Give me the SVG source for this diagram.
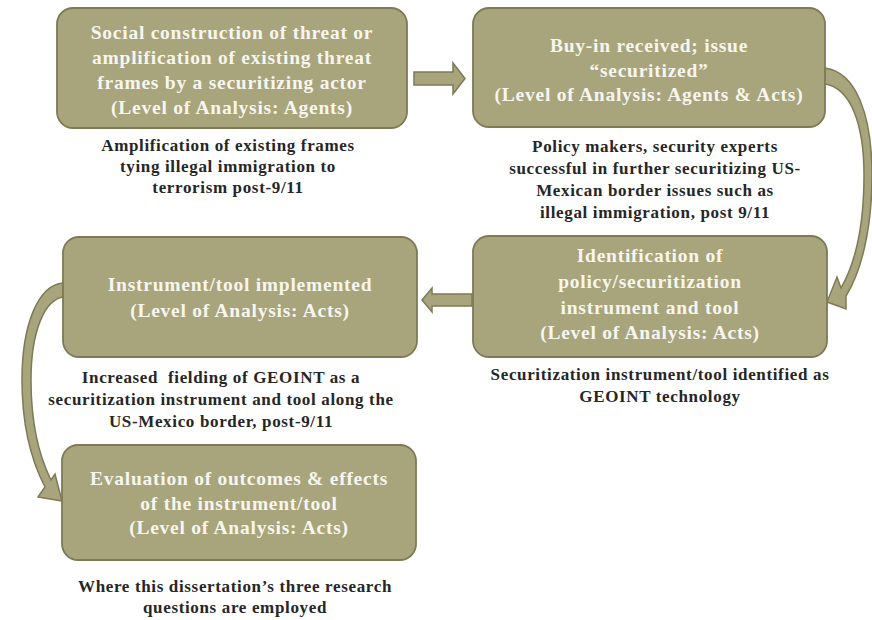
<svg xmlns="http://www.w3.org/2000/svg" width="872" height="620" viewBox="0 0 872 620">
<style>
.box{fill:#a8a47c;stroke:#7d7a56;stroke-width:1.8}
.arr{fill:#a8a47c;stroke:#7d7a56;stroke-width:1.5;stroke-linejoin:miter}
.bt{font-family:"Liberation Serif","Times New Roman",serif;font-weight:bold;font-size:19.5px;letter-spacing:0.75px;fill:#f7f6ee;text-anchor:middle}
.ct{font-family:"Liberation Serif","Times New Roman",serif;font-weight:bold;font-size:17px;letter-spacing:0.65px;fill:#262626;text-anchor:middle}
</style>
<rect width="872" height="620" fill="#ffffff"/>
<g id="connectors">
<path class="arr" d="M414 72 L453 72 L453 63 L465 78.5 L453 94 L453 85 L414 85 Z"/>
<path class="arr" d="M472 294 L432 294 L432 288 L422 300 L432 312 L432 306 L472 306 Z"/>
<path class="arr" d="M825 68 C856 72 872 115 872 175 C872 230 861 272 846 296 L846 309 L827 302 L837 277 L841 288 C856 262 864 225 864 175 C864 125 851 88 825 84 Z"/>
<path class="arr" d="M63 283 C38 285 22 325 22 380 C22 425 32 462 45 487 L38 497 L62 501 L55 474 L51 480 C40 458 31 425 31 380 C31 330 45 300 63 297 Z"/>
</g>
<g id="n1">
<rect class="box" x="57" y="8" width="350" height="120" rx="16"/>
<text class="bt" x="232" y="39">Social construction of threat or</text>
<text class="bt" x="232" y="64">amplification of existing threat</text>
<text class="bt" x="232" y="89">frames by a securitizing actor</text>
<text class="bt" x="232" y="114">(Level of Analysis: Agents)</text>
<text class="ct" x="228" y="151">Amplification of existing frames</text>
<text class="ct" x="228" y="172">tying illegal immigration to</text>
<text class="ct" x="228" y="193">terrorism post-9/11</text>
</g>
<g id="n2">
<rect class="box" x="473" y="8" width="352" height="119" rx="16"/>
<text class="bt" x="649" y="52">Buy-in received; issue</text>
<text class="bt" x="649" y="77">“securitized”</text>
<text class="bt" x="649" y="101">(Level of Analysis: Agents &amp; Acts)</text>
<text class="ct" x="655" y="152">Policy makers, security experts</text>
<text class="ct" x="655" y="174">successful in further securitizing US-</text>
<text class="ct" x="655" y="196">Mexican border issues such as</text>
<text class="ct" x="655" y="218">illegal immigration, post 9/11</text>
</g>
<g id="n3">
<rect class="box" x="473" y="236" width="354" height="121" rx="16"/>
<text class="bt" x="650" y="262">Identification of</text>
<text class="bt" x="650" y="288">policy/securitization</text>
<text class="bt" x="650" y="314">instrument and tool</text>
<text class="bt" x="650" y="339">(Level of Analysis: Acts)</text>
<text class="ct" x="660" y="380">Securitization instrument/tool identified as</text>
<text class="ct" x="660" y="402">GEOINT technology</text>
</g>
<g id="n4">
<rect class="box" x="63" y="237" width="354" height="120" rx="16"/>
<text class="bt" x="240" y="291">Instrument/tool implemented</text>
<text class="bt" x="240" y="317">(Level of Analysis: Acts)</text>
<text class="ct" x="221" y="383" xml:space="preserve" style="white-space:pre">Increased  fielding of GEOINT as a</text>
<text class="ct" x="221" y="405">securitization instrument and tool along the</text>
<text class="ct" x="221" y="427">US-Mexico border, post-9/11</text>
</g>
<g id="n5">
<rect class="box" x="62" y="445" width="354" height="115" rx="16"/>
<text class="bt" x="239" y="485">Evaluation of outcomes &amp; effects</text>
<text class="bt" x="239" y="510">of the instrument/tool</text>
<text class="bt" x="239" y="534">(Level of Analysis: Acts)</text>
<text class="ct" x="235" y="592">Where this dissertation’s three research</text>
<text class="ct" x="235" y="613">questions are employed</text>
</g>
</svg>
